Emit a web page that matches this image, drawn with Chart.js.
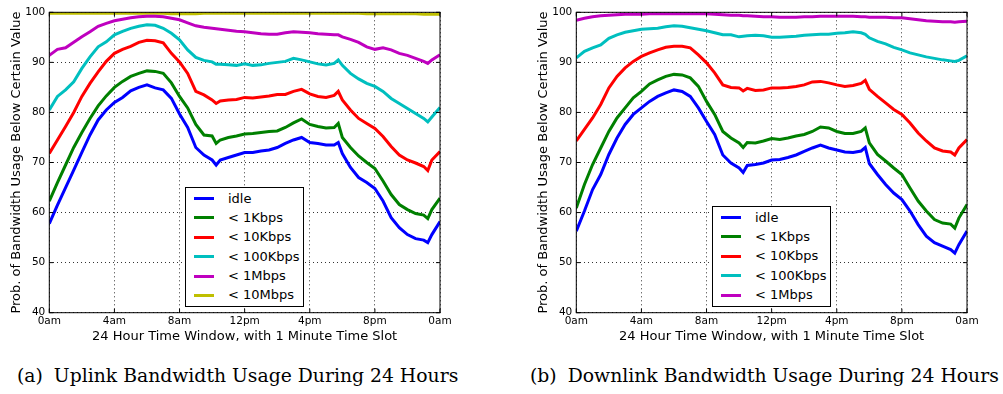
<!DOCTYPE html>
<html lang="en">
<head>
<meta charset="UTF-8" />
<title>Bandwidth Usage During 24 Hours</title>
<script src="https://cdn.jsdelivr.net/npm/chart.js@4"></script>
<style>
  body { margin: 0; background: #fff; }
  #page { position: relative; width: 1003px; height: 394px; overflow: hidden; background: #fff; font-family: "DejaVu Sans", sans-serif; }
  canvas { position: absolute; top: 0; }
  #upChart { left: 0; }
  #downChart { left: 527px; }
  .legend { position: absolute; border: 1px solid #000; background: #fff; box-sizing: border-box; font-size: 13px; color: #000; }
  .legend .sample { position: absolute; left: 8px; width: 20px; height: 3px; }
  .legend .label { position: absolute; left: 42px; line-height: 16px; white-space: pre; }
  .caption { position: absolute; top: 365px; font-family: "DejaVu Serif", serif; font-size: 18.8px; white-space: nowrap; color: #000; }
  .caption .tag { margin-right: 11px; }
</style>
</head>
<body>
<div id="page">
  <canvas id="upChart" width="460" height="346"></canvas>
  <canvas id="downChart" width="460" height="346"></canvas>
  <div class="legend" id="upLegend" style="left:185px; top:187px; width:119px; height:120px;"></div>
  <div class="legend" id="downLegend" style="left:712px; top:206px; width:119px; height:101px;"></div>
  <div class="caption" style="left:17px;"><span class="tag">(a)</span>Uplink Bandwidth Usage During 24 Hours</div>
  <div class="caption" style="left:530px;"><span class="tag">(b)</span>Downlink Bandwidth Usage During 24 Hours</div>
</div>

<script>
  // time of day in hours (0 = midnight)
  const hours = [0, 0.5, 1, 1.5, 2, 2.5, 3, 3.5, 4, 4.5, 5, 5.5, 6, 6.5, 7, 7.5, 8, 8.5, 9, 9.5, 10, 10.25, 10.5, 11, 11.5,
    12, 12.5, 13, 13.5, 14, 14.5, 15, 15.5, 16, 16.5, 17, 17.5, 17.75, 18, 18.5, 19, 19.5, 20, 20.5, 21, 21.5, 22, 22.5, 23, 23.25, 23.5, 24];
  const hourTicks = ['0am', '4am', '8am', '12pm', '4pm', '8pm', '0am'];
  const valueTicks = [40, 50, 60, 70, 80, 90, 100];

  const seriesNames = ['idle', '< 1Kbps', '< 10Kbps', '< 100Kbps', '< 1Mbps', '< 10Mbps'];
  const seriesColors = ['#0000ff', '#008000', '#ff0000', '#00bfbf', '#bf00bf', '#bfbf00'];

  // uplink
  const upIdle = [57.8, 61.5, 65, 68.5, 72, 75.5, 78.5, 80.5, 82, 83, 84.3, 85, 85.5, 84.9, 84.5, 82.8, 79.7, 77, 73, 71.5, 70.5, 69.5, 70.5, 71, 71.5,
    72, 72, 72.3, 72.5, 73, 73.8, 74.5, 75, 74, 73.8, 73.5, 73.5, 74, 71.8, 69, 67, 66, 64.8, 62.3, 59, 57, 55.6, 54.8, 54.5, 54, 55.6, 58.2];
  const up1K = [62.3, 66, 69.5, 73, 76, 78.8, 81.3, 83.3, 85, 86.2, 87.2, 87.8, 88.3, 88.2, 87.8, 85.9, 83.2, 80.9, 77.6, 75.5, 75.3, 73.8, 74.5, 75, 75.3,
    75.7, 75.8, 76, 76.2, 76.3, 77, 77.9, 78.7, 77.6, 77.2, 76.9, 77, 77.8, 75, 73, 71.3, 70, 68.8, 66.3, 63.6, 61.6, 60.6, 59.8, 59.5, 58.8, 60.6, 62.9];
  const up10K = [71.8, 74.5, 77.2, 80, 83.2, 85.8, 88.1, 90.2, 91.8, 92.6, 93.2, 94, 94.4, 94.3, 93.9, 91.8, 90.1, 87.8, 84.2, 83.5, 82.5, 81.8, 82.3, 82.5, 82.6,
    83, 82.9, 83.1, 83.3, 83.6, 83.6, 84.2, 84.6, 83.7, 83.2, 83, 83.4, 84.2, 82.5, 80.5, 78.8, 77.8, 76.8, 75.2, 73.2, 71.5, 70.5, 69.9, 69.2, 68.4, 70.5, 72.2];
  const up100K = [80.5, 83.2, 84.5, 86.1, 88.8, 91.1, 93.1, 94.1, 95.5, 96.2, 96.8, 97.2, 97.5, 97.4, 96.8, 95.8, 94.5, 92.5, 91, 90.4, 90.1, 89.6, 89.6, 89.5, 89.4,
    89.7, 89.4, 89.5, 89.8, 90, 90.2, 90.8, 90.5, 90.1, 89.7, 89.5, 89.8, 90.5, 89.4, 87.8, 86.7, 85.8, 85.2, 84.2, 82.8, 81.8, 80.8, 79.8, 78.8, 78.1, 79.1, 81];
  const up1M = [91.4, 92.6, 92.9, 94, 95.1, 96.1, 97.2, 97.8, 98.3, 98.6, 98.9, 99.1, 99.2, 99.2, 99.1, 98.8, 98.5, 97.9, 97.3, 97, 96.8, 96.7, 96.6, 96.4, 96.2,
    96.1, 95.9, 95.7, 95.6, 95.6, 95.9, 96.1, 96, 95.9, 95.7, 95.6, 95.5, 95.5, 95.1, 94.6, 94, 93.1, 92.6, 92.9, 92.5, 91.8, 91.4, 90.8, 90.2, 89.8, 90.5, 91.5];
  const up10M = [99.8, 99.8, 99.8, 99.8, 99.8, 99.8, 99.8, 99.8, 99.8, 99.8, 99.8, 99.8, 99.8, 99.8, 99.8, 99.7, 99.7, 99.7, 99.7, 99.8, 99.8, 99.8, 99.8, 99.8, 99.8,
    99.8, 99.8, 99.8, 99.8, 99.8, 99.8, 99.8, 99.8, 99.8, 99.8, 99.8, 99.8, 99.8, 99.8, 99.8, 99.8, 99.7, 99.7, 99.7, 99.7, 99.7, 99.7, 99.7, 99.6, 99.6, 99.6, 99.6];

  // downlink
  const downIdle = [56.3, 60.3, 64.6, 67.6, 71.6, 74.9, 77.6, 79.6, 80.9, 82.2, 83.2, 83.9, 84.5, 84.2, 83.2, 80.9, 78.2, 75.6, 71.5, 69.9, 68.9, 68, 69.4, 69.6, 69.9,
    70.5, 70.6, 71, 71.5, 72.2, 72.9, 73.5, 72.9, 72.5, 72.1, 72, 72.3, 73, 69.8, 67.6, 65.6, 63.9, 62.6, 60.3, 57.6, 55.3, 54, 53.3, 52.6, 51.9, 53.6, 56.3];
  const down1K = [60.9, 65.6, 69.6, 72.9, 76.2, 78.9, 80.9, 82.9, 84.2, 85.7, 86.5, 87.2, 87.6, 87.5, 86.9, 85.2, 82.2, 79.6, 76.2, 74.9, 73.9, 73, 74, 73.9, 74.3,
    74.8, 74.6, 74.9, 75.3, 75.6, 76.2, 77.1, 76.9, 76.2, 75.8, 75.8, 76.2, 76.9, 73.9, 71.6, 70.3, 68.9, 67.6, 64.9, 62.3, 60.3, 58.6, 57.9, 57.7, 56.9, 58.9, 61.6];
  const down10K = [74.3, 76.6, 78.9, 81.6, 84.9, 87.2, 88.9, 90.2, 91.2, 91.9, 92.5, 93, 93.2, 93.2, 92.9, 91.5, 89.9, 87.9, 85.5, 85, 84.9, 84.3, 84.8, 84.4, 84.5,
    84.9, 84.9, 85, 85.2, 85.5, 86.1, 86.2, 85.9, 85.5, 85.2, 85.4, 85.8, 86.4, 84.6, 83.2, 81.9, 80.6, 79.6, 77.9, 75.9, 74.3, 72.9, 72.3, 72.1, 71.5, 72.9, 74.6];
  const down100K = [90.9, 92.2, 92.9, 93.5, 94.8, 95.5, 96, 96.3, 96.6, 96.7, 96.8, 97.1, 97.3, 97.2, 96.9, 96.6, 96.3, 95.9, 95.5, 95.5, 95.1, 95.2, 95.3, 95.4, 95.3,
    95, 95, 95.1, 95.2, 95.4, 95.5, 95.6, 95.6, 95.8, 95.9, 96.1, 95.9, 95.6, 94.9, 94.2, 93.7, 93, 92.5, 91.9, 91.5, 91.1, 90.8, 90.5, 90.3, 90.2, 90.4, 91.3];
  const down1M = [98.4, 98.8, 99.1, 99.3, 99.4, 99.5, 99.6, 99.6, 99.6, 99.7, 99.7, 99.7, 99.7, 99.7, 99.7, 99.7, 99.7, 99.6, 99.5, 99.4, 99.4, 99.3, 99.3, 99.2, 99.1,
    99.1, 99, 99, 99, 99.1, 99.1, 99.2, 99.2, 99.2, 99.2, 99.2, 99.1, 99.1, 99, 99, 99, 98.9, 98.9, 98.7, 98.5, 98.3, 98.2, 98.1, 98.1, 98, 98.1, 98.2];

  const upSeries = [upIdle, up1K, up10K, up100K, up1M, up10M];
  const downSeries = [downIdle, down1K, down10K, down100K, down1M];

  // matplotlib-like frame with inward ticks on all four sides
  const frameTicks = {
    id: 'frameTicks',
    afterDatasetsDraw(chart) {
      const { ctx, chartArea: a, scales: { x, y } } = chart;
      ctx.save();
      ctx.strokeStyle = '#000';
      ctx.lineWidth = 1;
      ctx.strokeRect(a.left, a.top, a.right - a.left, a.bottom - a.top);
      ctx.beginPath();
      x.ticks.forEach(t => {
        const px = x.getPixelForValue(t.value);
        ctx.moveTo(px, a.bottom); ctx.lineTo(px, a.bottom - 4);
        ctx.moveTo(px, a.top); ctx.lineTo(px, a.top + 4);
      });
      y.ticks.forEach(t => {
        const py = y.getPixelForValue(t.value);
        ctx.moveTo(a.left, py); ctx.lineTo(a.left + 4, py);
        ctx.moveTo(a.right, py); ctx.lineTo(a.right - 4, py);
      });
      ctx.stroke();
      ctx.restore();
    }
  };

  function makeChart(id, series) {
    const datasets = series.map((vals, i) => ({
      label: seriesNames[i],
      data: hours.map((h, j) => ({ x: h, y: vals[j] })),
      borderColor: seriesColors[i],
      borderWidth: 3,
      pointRadius: 0,
      tension: 0,
      fill: false
    }));
    return new Chart(document.getElementById(id), {
      type: 'line',
      data: { datasets },
      options: {
        responsive: false,
        animation: false,
        layout: { padding: { top: 12.3, right: 20, left: 0, bottom: 0 } },
        plugins: { legend: { display: false }, tooltip: { enabled: false } },
        scales: {
          x: {
            type: 'linear',
            min: 0,
            max: 24,
            afterFit: s => { s.height = 33.3; },
            afterBuildTicks: s => { s.ticks = hourTicks.map((_, i) => ({ value: i * 4 })); },
            ticks: {
              padding: 2,
              color: '#000',
              font: { family: 'DejaVu Sans', size: 10.5 },
              maxRotation: 0,
              callback: (v) => hourTicks[Math.round(v / 4)]
            },
            grid: { color: '#000', lineWidth: 0.8, drawTicks: false },
            border: { display: false, dash: [1, 3] },
            title: {
              display: true,
              text: '24 Hour Time Window, with 1 Minute Time Slot',
              color: '#000',
              font: { family: 'DejaVu Sans', size: 13 },
              padding: { top: 0, bottom: 1.5 }
            }
          },
          y: {
            min: 40,
            max: 100,
            afterFit: s => { s.width = 49.3; },
            afterBuildTicks: s => { s.ticks = valueTicks.map(v => ({ value: v })); },
            ticks: {
              padding: 4,
              color: '#000',
              font: { family: 'DejaVu Sans', size: 10.5 }
            },
            grid: { color: '#000', lineWidth: 0.8, drawTicks: false },
            border: { display: false, dash: [1, 3] },
            title: {
              display: true,
              text: 'Prob. of Bandwidth Usage Below Certain Value',
              color: '#000',
              font: { family: 'DejaVu Sans', size: 13 },
              padding: { top: 8.5, bottom: 0 }
            }
          }
        }
      },
      plugins: [frameTicks]
    });
  }

  function makeLegend(id, count) {
    const box = document.getElementById(id);
    for (let i = 0; i < count; i++) {
      const cy = 10.6 + i * 19.35;
      const sample = document.createElement('div');
      sample.className = 'sample';
      sample.style.top = (cy - 1.5) + 'px';
      sample.style.background = seriesColors[i];
      const label = document.createElement('div');
      label.className = 'label';
      label.style.top = (cy - 8) + 'px';
      label.textContent = seriesNames[i];
      box.appendChild(sample);
      box.appendChild(label);
    }
  }

  makeChart('upChart', upSeries);
  makeChart('downChart', downSeries);
  makeLegend('upLegend', upSeries.length);
  makeLegend('downLegend', downSeries.length);
</script>
</body>
</html>
